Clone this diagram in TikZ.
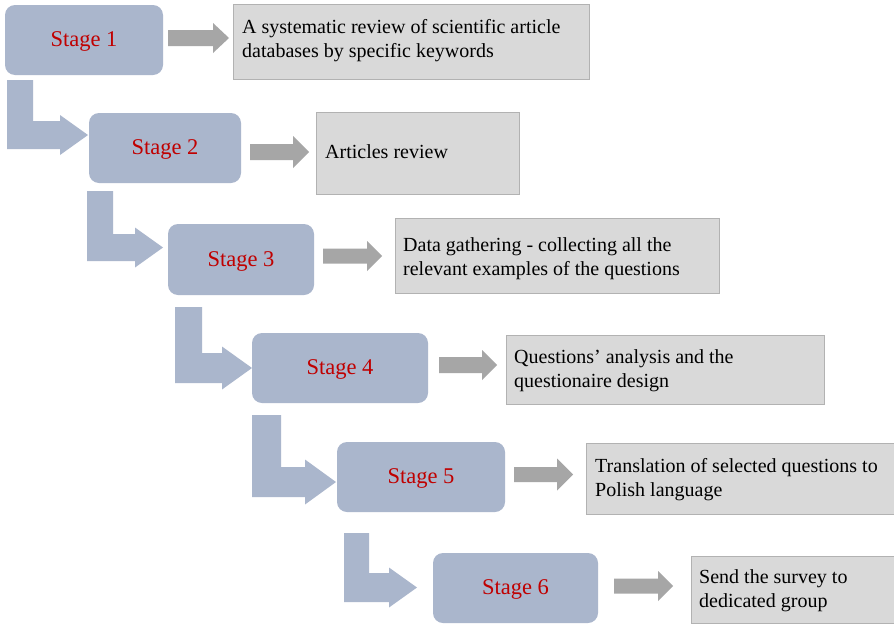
\documentclass[tikz,border=0pt]{standalone}
\usepackage{fontspec}
\setmainfont{Liberation Serif}
\definecolor{stagefill}{RGB}{170,182,204}
\definecolor{stagetext}{RGB}{192,0,0}
\definecolor{arrowgray}{RGB}{166,166,166}
\definecolor{boxfill}{RGB}{217,217,217}
\definecolor{boxline}{RGB}{178,178,178}
\tikzset{
  stagebox/.style={draw=none, fill=stagefill, rounded corners=10pt},
  infobox/.style={draw=boxline, line width=0.9pt, fill=boxfill},
  infotext/.style={anchor=west, align=left, inner sep=0pt, text=black,
    font=\fontsize{20}{24}\selectfont},
  bentarrow/.style={fill=stagefill, draw=none},
  grayarrow/.style={fill=arrowgray, draw=none}
}
% bent arrow: x0, w, ytop, yc, t, xb, xt, h
\newcommand\mybent[8]{%
  \fill[bentarrow] (#1,#3) -- ({#1+#2},#3) -- ({#1+#2},{#4-#5/2}) -- (#6,{#4-#5/2})
    -- (#6,{#4-#8}) -- (#7,#4) -- (#6,{#4+#8}) -- (#6,{#4+#5/2}) -- (#1,{#4+#5/2}) -- cycle;}
% straight arrow: xs, xb, xt, yc, t, h
\newcommand\mygray[6]{%
  \fill[grayarrow] (#1,{#4-#5/2}) -- (#2,{#4-#5/2}) -- (#2,{#4-#6}) -- (#3,#4)
    -- (#2,{#4+#6}) -- (#2,{#4+#5/2}) -- (#1,{#4+#5/2}) -- cycle;}
\newcommand\mystage[6]{%
  \path[stagebox] (#2,#4) rectangle (#3,#5);
  \node[text=stagetext, font=\fontsize{22.5}{26}\selectfont] (#1) at ({(#2+#3)/2},{(#4+#5)/2+1.5}) {#6};}
\begin{document}
\begin{tikzpicture}[x=1pt,y=-1pt]
\useasboundingbox (0,0) rectangle (894,624);
\fill[white] (0,0) rectangle (894,624);
\begin{scope}
\clip (0,0) rectangle (894,624);
% stage boxes
\mystage{s1}{5}{163}{5}{75}{Stage 1}
\mystage{s2}{89}{241}{113}{183}{Stage 2}
\mystage{s3}{168}{314}{224}{295}{Stage 3}
\mystage{s4}{252}{428}{333}{403}{Stage 4}
\mystage{s5}{337}{505}{442}{512}{Stage 5}
\mystage{s6}{433}{598}{553}{623}{Stage 6}
% bent arrows
\mybent{7}{26}{80}{135}{28}{60}{88}{20}
\mybent{87}{26}{191}{247.5}{27}{135}{163}{20}
\mybent{175}{27}{307}{368}{30}{222}{252}{21.5}
\mybent{252}{29}{415}{482}{30}{305}{336}{22.5}
\mybent{344}{25}{533}{587.5}{29}{389}{417}{20}
% gray arrows
\mygray{168}{213}{229}{38}{16}{15}
\mygray{250}{293}{309}{152}{16}{16}
\mygray{323}{367}{382}{256}{15}{15}
\mygray{439}{482}{497}{365}{16}{15}
\mygray{514}{557}{573}{474.5}{15}{16}
\mygray{614}{658}{673}{586}{15}{15}
% info boxes
\draw[infobox] (233,4) rectangle (589,79);
\draw[infobox] (316,112) rectangle (519,194);
\draw[infobox] (395,218) rectangle (719,293);
\draw[infobox] (506,335) rectangle (824,404);
\draw[infobox] (586,443) rectangle (900,514);
\draw[infobox] (691,556) rectangle (900,623);
% info texts
\node[infotext] (t1) at (242,41) {A systematic review of scientific article\\databases by specific keywords};
\node[infotext] (t2) at (325,152) {Articles review};
\node[infotext] (t3) at (403,259) {Data gathering - collecting all the\\relevant examples of the questions};
\node[infotext] (t4) at (514,371) {Questions’ analysis and the\\questionaire design};
\node[infotext] (t5) at (595,480) {Translation of selected questions to\\Polish language};
\node[infotext] (t6) at (699,591) {Send the survey to\\dedicated group};
\end{scope}
\end{tikzpicture}
\end{document}
